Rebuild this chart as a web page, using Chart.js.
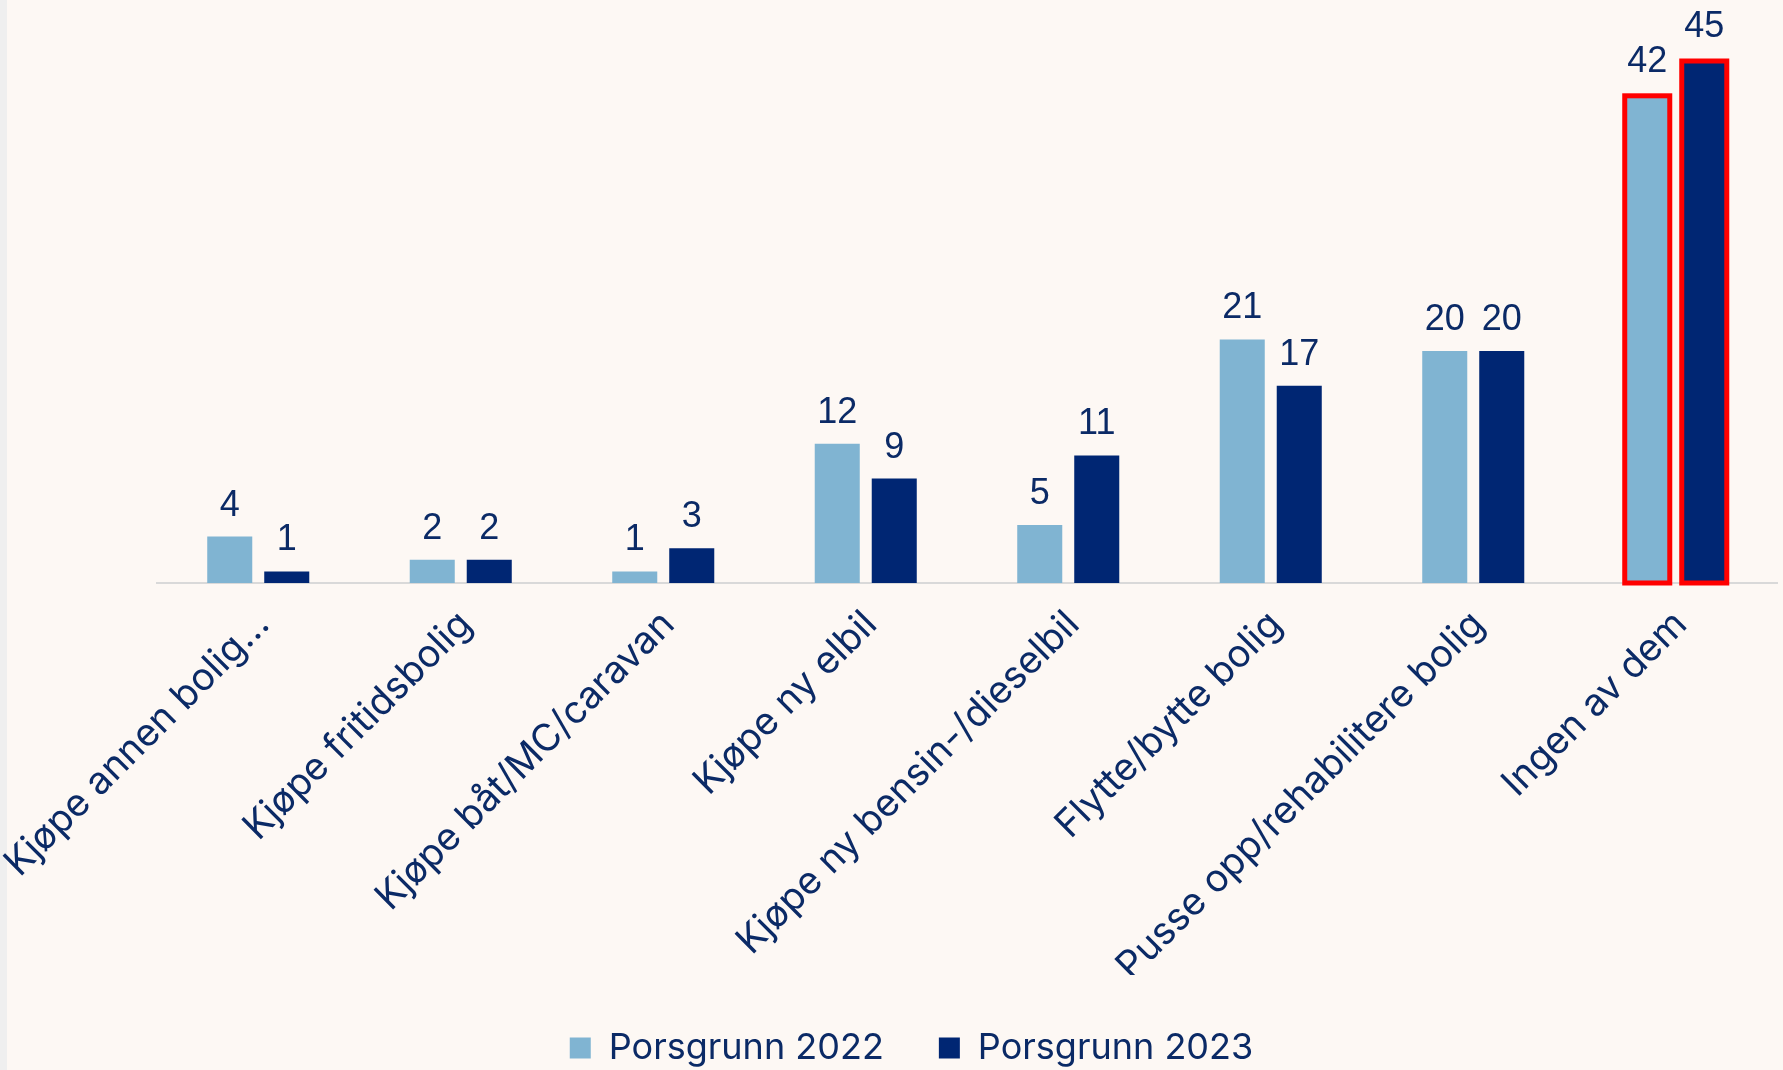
<!DOCTYPE html>
<html>
<head>
<meta charset="utf-8">
<script src="https://cdn.jsdelivr.net/npm/chart.js@4"></script>
<style>
  html, body { margin: 0; padding: 0; overflow: hidden; }
  body { background: linear-gradient(to right, #efefef 7px, #fdf8f4 7px); }
  #wrap { position: relative; width: 1783px; height: 1076px; }
</style>
</head>
<body>
<div id="wrap"><canvas id="chart"></canvas></div>
<script>
const categories = [
    'Kjøpe annen bolig...',
    'Kjøpe fritidsbolig',
    'Kjøpe båt/MC/caravan',
    'Kjøpe ny elbil',
    'Kjøpe ny bensin-/dieselbil',
    'Flytte/bytte bolig',
    'Pusse opp/rehabilitere bolig',
    'Ingen av dem'
];
const porsgrunn2022 = [4, 2, 1, 12, 5, 21, 20, 42];
const porsgrunn2023 = [1, 2, 3, 9, 11, 17, 20, 45];

const textColor = '#0b2a66';
const highlighted = [7];   // "Ingen av dem" gets the red frame

// red frame around the highlighted bars
const framePlugin = {
    id: 'frame',
    afterDatasetsDraw(chart) {
        const ctx = chart.ctx;
        ctx.save();
        ctx.strokeStyle = '#ff0000';
        ctx.lineWidth = 5;
        chart.data.datasets.forEach((ds, di) => {
            const meta = chart.getDatasetMeta(di);
            highlighted.forEach(i => {
                const bar = meta.data[i];
                ctx.strokeRect(bar.x - bar.width / 2, bar.y, bar.width, bar.base - bar.y);
            });
        });
        ctx.restore();
    }
};

// value above each bar
const valuePlugin = {
    id: 'values',
    afterDatasetsDraw(chart) {
        const ctx = chart.ctx;
        ctx.save();
        ctx.font = '36px "Liberation Sans", Arial, sans-serif';
        ctx.fillStyle = textColor;
        ctx.textAlign = 'center';
        ctx.textBaseline = 'alphabetic';
        chart.data.datasets.forEach((ds, di) => {
            const meta = chart.getDatasetMeta(di);
            meta.data.forEach((bar, i) => {
                const gap = highlighted.includes(i) ? 24 : 21;
                ctx.fillText(String(ds.data[i]), bar.x, bar.y - gap);
            });
        });
        ctx.restore();
    }
};

const ctx = document.getElementById('chart').getContext('2d');
const chart = new Chart(ctx, {
    type: 'bar',
    data: {
        labels: categories,
        datasets: [{
            label: 'Porsgrunn 2022',
            data: porsgrunn2022,
            backgroundColor: '#80b4d2',
            borderWidth: 0
        }, {
            label: 'Porsgrunn 2023',
            data: porsgrunn2023,
            backgroundColor: '#002673',
            borderWidth: 0
        }]
    },
    options: {
        responsive: true,
        maintainAspectRatio: false,
        animation: false,
        categoryPercentage: 0.563,
        barPercentage: 0.79,
        layout: {
            padding: { top: 3, left: 46, right: 6, bottom: 0 }
        },
        scales: {
            x: {
                grid: { display: false, drawTicks: false },
                border: { display: true, color: '#d9d9d9', width: 2 },
                ticks: {
                    autoSkip: false,
                    minRotation: 45,
                    maxRotation: 45,
                    labelOffset: 5,
                    padding: 19,
                    color: textColor,
                    font: { family: 'Inter', size: 38 }
                },
                afterFit(scale) {
                    scale.paddingLeft = 157;
                    scale.paddingRight = 0;
                    scale.height = 392;
                }
            },
            y: {
                display: false,
                min: 0,
                max: 50
            }
        },
        plugins: {
            legend: {
                position: 'bottom',
                labels: {
                    boxWidth: 21,
                    boxHeight: 21,
                    padding: 55,
                    color: textColor,
                    font: { family: 'Inter', size: 36 }
                }
            },
            tooltip: { enabled: false }
        }
    },
    plugins: [framePlugin, valuePlugin]
});
</script>
</body>
</html>
